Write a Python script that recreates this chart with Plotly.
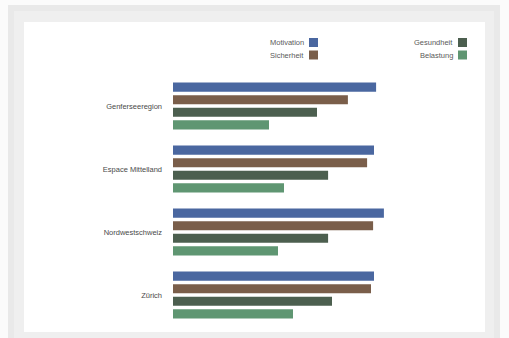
import plotly.graph_objects as go

W, H = 509, 338

regions = ["Genferseeregion", "Espace Mittelland", "Nordwestschweiz", "Zürich"]
series = ["Motivation", "Sicherheit", "Gesundheit", "Belastung"]
motivation = [67.7, 67.0, 70.3, 67.0]
sicherheit = [58.3, 64.7, 66.7, 66.0]
gesundheit = [48.0, 51.7, 51.7, 53.0]
belastung = [32.0, 37.0, 35.0, 40.0]
colors = ["#4a67a0", "#7a5e4a", "#4c5f4f", "#5f9672"]

values = [motivation, sicherheit, gesundheit, belastung]


def px(x):
    return x / W


def py(y):
    return 1 - y / H


fig = go.Figure()
for name, vals, col in zip(series, values, colors):
    fig.add_trace(go.Bar(
        y=regions, x=vals, name=name, orientation="h",
        marker=dict(color=col, line=dict(width=0)),
        showlegend=False,
    ))

shapes = [
    # outer frame
    dict(type="rect", xref="paper", yref="paper", x0=px(8), x1=px(500), y0=py(345), y1=py(5),
         fillcolor="#e9e9e9", line=dict(width=0), layer="below"),
    dict(type="rect", xref="paper", yref="paper", x0=px(14), x1=px(494), y0=py(345), y1=py(11),
         fillcolor="#efefef", line=dict(width=0), layer="below"),
    # inner white panel
    dict(type="rect", xref="paper", yref="paper", x0=px(24), x1=px(485), y0=py(332), y1=py(22),
         fillcolor="#ffffff", line=dict(width=0), layer="below"),
]
annotations = []

legend_pos = [(306, 42.5), (306, 55), (455, 42.5), (455, 55)]
for name, col, (tx, ty) in zip(series, colors, legend_pos):
    annotations.append(dict(
        xref="paper", yref="paper", x=px(tx), y=py(ty), text=name, showarrow=False,
        xanchor="right", yanchor="middle",
        font=dict(size=7.5, color="#5a5a5a", family="Arial, Liberation Sans, sans-serif"),
    ))
    shapes.append(dict(
        type="rect", xref="paper", yref="paper",
        x0=px(tx + 3), x1=px(tx + 12), y0=py(ty + 4.5), y1=py(ty - 4.5),
        fillcolor=col, line=dict(width=0),
    ))

fig.update_layout(
    width=W, height=H,
    margin=dict(l=0, r=0, t=0, b=0),
    paper_bgcolor="#fbfbfb",
    plot_bgcolor="rgba(0,0,0,0)",
    barmode="group",
    bargap=0.2,
    bargroupgap=0.28,
    xaxis=dict(domain=[px(173), px(473)], range=[0, 100], visible=False),
    yaxis=dict(domain=[py(326.5), py(74.5)], autorange="reversed",
               showgrid=False, showline=False, ticks="", zeroline=False,
               ticklabelstandoff=10,
               tickfont=dict(size=7.5, color="#4a4a4a", family="Arial, Liberation Sans, sans-serif")),
    shapes=shapes,
    annotations=annotations,
    showlegend=False,
)

fig.write_html(
    "out.html",
    config={"displayModeBar": False},
    post_script="document.body.style.margin='0';document.body.style.overflow='hidden';",
)
